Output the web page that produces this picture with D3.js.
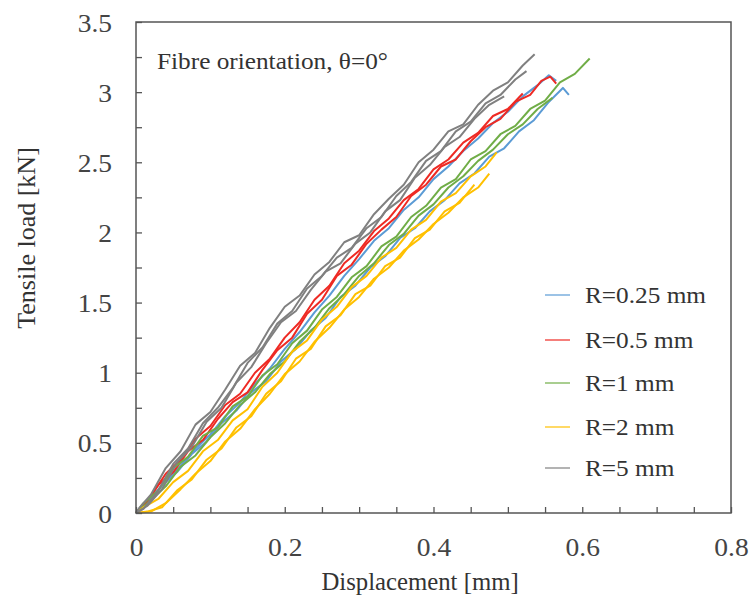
<!DOCTYPE html>
<html>
<head>
<meta charset="utf-8">
<script src="https://cdn.jsdelivr.net/npm/d3@7"></script>
<style>
  body { margin: 0; background: #fff; }
</style>
</head>
<body>
<svg id="chart" width="752" height="610"></svg>
<script>
// ---- Axis ticks and labels ----
const xTickValues = [0, 0.05, 0.1, 0.15, 0.2, 0.25, 0.3, 0.35, 0.4, 0.45, 0.5, 0.55, 0.6, 0.65, 0.7, 0.75, 0.8];
const xTickLabels = [0, 0.2, 0.4, 0.6, 0.8];
const yTickValues = [0, 0.25, 0.5, 0.75, 1, 1.25, 1.5, 1.75, 2, 2.25, 2.5, 2.75, 3, 3.25, 3.5];
const yTickLabels = [0, 0.5, 1, 1.5, 2, 2.5, 3, 3.5];

// ---- Legend categories and colours ----
const categories = ["R=0.25 mm", "R=0.5 mm", "R=1 mm", "R=2 mm", "R=5 mm"];
const colors = ["#5B9BD5", "#EE2A24", "#70AD47", "#FFC000", "#808080"];

// ---- Load–displacement records (displacement in mm, load in kN), one entry per specimen ----
const specimensR025 = [
  { x: [0, 0.015, 0.035, 0.055, 0.075, 0.095, 0.115, 0.135, 0.155, 0.175, 0.195, 0.215, 0.235, 0.255, 0.275, 0.295, 0.315, 0.335, 0.355, 0.375, 0.395, 0.415, 0.435, 0.455, 0.475, 0.495, 0.515, 0.535, 0.555, 0.574, 0.582],
    y: [0, 0.07, 0.20, 0.29, 0.42, 0.51, 0.64, 0.73, 0.86, 0.94, 1.08, 1.17, 1.30, 1.39, 1.54, 1.62, 1.75, 1.83, 1.96, 2.03, 2.15, 2.23, 2.35, 2.42, 2.54, 2.60, 2.72, 2.80, 2.93, 3.03, 2.98] },
  { x: [0, 0.02, 0.04, 0.06, 0.08, 0.10, 0.12, 0.14, 0.16, 0.18, 0.20, 0.22, 0.24, 0.26, 0.28, 0.30, 0.32, 0.34, 0.36, 0.38, 0.40, 0.42, 0.44, 0.46, 0.48, 0.50, 0.52, 0.54, 0.555, 0.565],
    y: [0, 0.11, 0.22, 0.34, 0.46, 0.56, 0.69, 0.79, 0.92, 1.03, 1.17, 1.29, 1.43, 1.55, 1.69, 1.81, 1.94, 2.03, 2.16, 2.25, 2.38, 2.47, 2.58, 2.67, 2.78, 2.86, 2.97, 3.05, 3.12, 3.08] }
];
const specimensR05 = [
  { x: [0, 0.01, 0.03, 0.05, 0.07, 0.09, 0.11, 0.13, 0.15, 0.17, 0.19, 0.21, 0.23, 0.25, 0.27, 0.29, 0.31, 0.33, 0.35, 0.37, 0.39, 0.41, 0.43, 0.45, 0.47, 0.49, 0.51, 0.53, 0.545, 0.557, 0.565],
    y: [0, 0.05, 0.20, 0.29, 0.44, 0.52, 0.67, 0.79, 0.86, 1.02, 1.16, 1.25, 1.42, 1.52, 1.69, 1.77, 1.92, 2.02, 2.11, 2.26, 2.34, 2.47, 2.52, 2.65, 2.75, 2.81, 2.93, 2.98, 3.08, 3.11, 3.06] },
  { x: [0, 0.02, 0.04, 0.06, 0.08, 0.10, 0.12, 0.14, 0.16, 0.18, 0.20, 0.22, 0.24, 0.26, 0.28, 0.30, 0.32, 0.34, 0.36, 0.38, 0.40, 0.42, 0.44, 0.46, 0.48, 0.50, 0.52],
    y: [0, 0.12, 0.28, 0.38, 0.53, 0.62, 0.77, 0.85, 1.00, 1.10, 1.25, 1.36, 1.52, 1.62, 1.78, 1.87, 2.01, 2.10, 2.23, 2.31, 2.45, 2.52, 2.64, 2.71, 2.83, 2.88, 2.99] }
];
const specimensR1 = [
  { x: [0, 0.01, 0.03, 0.05, 0.07, 0.09, 0.11, 0.13, 0.15, 0.17, 0.19, 0.21, 0.23, 0.25, 0.27, 0.29, 0.31, 0.33, 0.35, 0.37, 0.39, 0.41, 0.43, 0.45, 0.47, 0.49, 0.51, 0.53, 0.55, 0.57, 0.59, 0.61],
    y: [0, 0.07, 0.16, 0.32, 0.40, 0.55, 0.61, 0.76, 0.83, 0.98, 1.06, 1.21, 1.30, 1.45, 1.54, 1.68, 1.76, 1.90, 1.97, 2.11, 2.19, 2.32, 2.38, 2.52, 2.58, 2.70, 2.76, 2.88, 2.94, 3.07, 3.13, 3.24] },
  { x: [0, 0.02, 0.04, 0.06, 0.08, 0.10, 0.12, 0.14, 0.16, 0.18, 0.20, 0.22, 0.24, 0.26, 0.28, 0.30, 0.32, 0.34, 0.36, 0.38, 0.40, 0.42, 0.44, 0.46, 0.48, 0.50, 0.52, 0.54, 0.56],
    y: [0, 0.09, 0.19, 0.33, 0.41, 0.54, 0.64, 0.77, 0.86, 0.99, 1.08, 1.22, 1.32, 1.46, 1.56, 1.69, 1.78, 1.91, 1.99, 2.12, 2.20, 2.32, 2.40, 2.51, 2.59, 2.70, 2.77, 2.88, 2.96] }
];
const specimensR2 = [
  { x: [0, 0.01, 0.03, 0.05, 0.07, 0.09, 0.11, 0.13, 0.15, 0.17, 0.19, 0.21, 0.23, 0.25, 0.27, 0.29, 0.31, 0.33, 0.35, 0.37, 0.39, 0.41, 0.43, 0.45, 0.47, 0.485],
    y: [0, 0.04, 0.10, 0.22, 0.30, 0.44, 0.52, 0.66, 0.74, 0.90, 1.00, 1.15, 1.23, 1.38, 1.47, 1.61, 1.69, 1.82, 1.89, 2.02, 2.09, 2.22, 2.28, 2.40, 2.47, 2.57] },
  { x: [0, 0.02, 0.04, 0.06, 0.08, 0.10, 0.12, 0.14, 0.16, 0.18, 0.20, 0.22, 0.24, 0.26, 0.28, 0.30, 0.32, 0.34, 0.36, 0.38, 0.40, 0.42, 0.44, 0.46, 0.475],
    y: [0, 0.01, 0.07, 0.17, 0.28, 0.37, 0.51, 0.60, 0.74, 0.85, 0.99, 1.08, 1.22, 1.32, 1.45, 1.54, 1.67, 1.75, 1.87, 1.95, 2.06, 2.14, 2.25, 2.32, 2.42] },
  { x: [0, 0.015, 0.035, 0.055, 0.075, 0.095, 0.115, 0.135, 0.155, 0.175, 0.195, 0.215, 0.235, 0.255, 0.275, 0.295, 0.315, 0.335, 0.355, 0.375, 0.395, 0.415, 0.435, 0.455],
    y: [0, 0.01, 0.04, 0.16, 0.24, 0.38, 0.46, 0.61, 0.69, 0.85, 0.94, 1.10, 1.17, 1.33, 1.41, 1.56, 1.62, 1.76, 1.82, 1.96, 2.02, 2.15, 2.21, 2.34] }
];
const specimensR5 = [
  { x: [0, 0.005, 0.02, 0.04, 0.06, 0.08, 0.10, 0.12, 0.14, 0.16, 0.18, 0.20, 0.22, 0.24, 0.26, 0.28, 0.30, 0.32, 0.34, 0.36, 0.38, 0.40, 0.42, 0.44, 0.46, 0.48, 0.50, 0.52, 0.536],
    y: [0, 0.04, 0.13, 0.32, 0.44, 0.63, 0.72, 0.88, 1.05, 1.14, 1.32, 1.47, 1.55, 1.70, 1.79, 1.93, 1.98, 2.13, 2.24, 2.34, 2.50, 2.59, 2.72, 2.77, 2.91, 3.01, 3.07, 3.19, 3.27] },
  { x: [0, 0.01, 0.03, 0.05, 0.07, 0.09, 0.11, 0.13, 0.15, 0.17, 0.19, 0.21, 0.23, 0.25, 0.27, 0.29, 0.31, 0.33, 0.35, 0.37, 0.39, 0.41, 0.43, 0.45, 0.47, 0.49, 0.51, 0.525],
    y: [0, 0.03, 0.16, 0.35, 0.46, 0.64, 0.75, 0.89, 1.07, 1.18, 1.35, 1.44, 1.60, 1.69, 1.82, 1.89, 2.03, 2.11, 2.26, 2.36, 2.51, 2.58, 2.72, 2.79, 2.92, 2.98, 3.09, 3.15] },
  { x: [0, 0.015, 0.035, 0.055, 0.075, 0.095, 0.115, 0.135, 0.155, 0.175, 0.195, 0.215, 0.235, 0.255, 0.275, 0.295, 0.315, 0.335, 0.355, 0.375, 0.395, 0.415, 0.435, 0.455, 0.475, 0.495],
    y: [0, 0.05, 0.17, 0.36, 0.47, 0.65, 0.75, 0.93, 1.04, 1.21, 1.36, 1.44, 1.59, 1.72, 1.78, 1.92, 2.00, 2.15, 2.23, 2.39, 2.48, 2.61, 2.68, 2.81, 2.91, 2.97] }
];
const seriesSpecimens = [specimensR025, specimensR05, specimensR1, specimensR2, specimensR5];

// ---- Layout ----
const FONT = '"Liberation Serif"';
const svg = d3.select("#chart");
const plot = { left: 136, right: 731, top: 22, bottom: 513 };
const stretch = 1.1; // horizontal stretch applied to the serif lettering

const x = d3.scaleLinear().domain([0, 0.8]).range([plot.left, plot.right]);
const y = d3.scaleLinear().domain([0, 3.5]).range([plot.bottom, plot.top]);

const axisColor = "#555";

// Curves
const line = d3.line().x(d => x(d[0])).y(d => y(d[1]));
const curves = svg.append("g");
seriesSpecimens.forEach((specs, i) => {
  specs.forEach(s => {
    const pts = s.x.map((v, k) => [v, s.y[k]]);
    curves.append("path")
      .datum(pts)
      .attr("d", line)
      .attr("fill", "none")
      .attr("stroke", colors[i])
      .attr("stroke-width", 2)
      .attr("stroke-linejoin", "round");
  });
});

// Bottom axis: inward ticks every 0.05, labels every 0.2
const xAxis = d3.axisBottom(x)
  .tickValues(xTickValues)
  .tickSize(-6)
  .tickFormat(d => xTickLabels.includes(d) ? d3.format("")(d) : "");
const gx = svg.append("g").attr("transform", `translate(0,${plot.bottom})`).call(xAxis);
gx.attr("font-family", null);
gx.select(".domain").remove();
gx.selectAll(".tick line").attr("stroke", axisColor).attr("stroke-width", 1.3);
gx.selectAll(".tick text")
  .attr("y", 25).attr("dy", "0.71em")
  .attr("transform", `scale(${stretch},1)`)
  .style("font-family", FONT).style("font-size", "25px").style("fill", "#444");

// Left axis: inward ticks every 0.25, labels every 0.5
const yAxis = d3.axisLeft(y)
  .tickValues(yTickValues)
  .tickSize(-6)
  .tickFormat(d => yTickLabels.includes(d) ? d3.format("")(d) : "");
const gy = svg.append("g").attr("transform", `translate(${plot.left},0)`).call(yAxis);
gy.attr("font-family", null);
gy.select(".domain").remove();
gy.selectAll(".tick line").attr("stroke", axisColor).attr("stroke-width", 1.3);
gy.selectAll(".tick text")
  .attr("x", -24 / stretch).attr("dy", "0.36em")
  .attr("transform", `scale(${stretch},1)`)
  .style("font-family", FONT).style("font-size", "25px").style("fill", "#444");

// Plot frame
svg.append("rect")
  .attr("x", plot.left).attr("y", plot.top)
  .attr("width", plot.right - plot.left).attr("height", plot.bottom - plot.top)
  .attr("fill", "none").attr("stroke", axisColor).attr("stroke-width", 1.5);

// Axis titles
svg.append("text")
  .attr("transform", "translate(420,590)")
  .attr("text-anchor", "middle")
  .style("font-family", FONT).style("font-size", "24.75px").style("fill", "#333")
  .text("Displacement [mm]");

svg.append("text")
  .attr("transform", "translate(35,238) rotate(-90)")
  .attr("text-anchor", "middle")
  .style("font-family", FONT).style("font-size", "26px").style("fill", "#333")
  .text("Tensile load [kN]");

// Annotation
svg.append("text")
  .attr("transform", `translate(157,69) scale(${stretch},1)`)
  .style("font-family", FONT).style("font-size", "23px").style("fill", "#333")
  .text("Fibre orientation, θ=0°");

// Legend
const legendY = [295, 340, 383, 427, 468];
const legend = svg.append("g");
categories.forEach((c, i) => {
  legend.append("line")
    .attr("x1", 545).attr("x2", 570)
    .attr("y1", legendY[i]).attr("y2", legendY[i])
    .attr("stroke", colors[i]).attr("stroke-width", 1.2);
  legend.append("text")
    .attr("transform", `translate(585,${legendY[i] + 8}) scale(${stretch},1)`)
    .style("font-family", FONT).style("font-size", "23px").style("fill", "#333")
    .text(c);
});
</script>
</body>
</html>
